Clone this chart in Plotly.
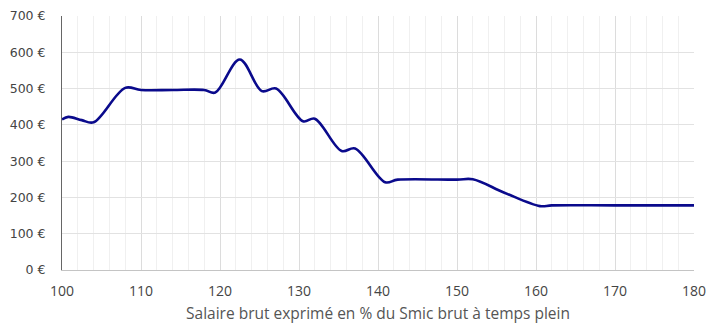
import plotly.graph_objects as go

salaire_pct = [100, 100.8, 102.5, 104, 108, 110, 114, 118, 119.4, 122.5, 125.3, 127.1,
               130.5, 132, 135.4, 137.1, 140.9, 142.5, 150, 152, 156, 160.5, 162, 170, 180]
gain_eur = [415, 422, 413, 407, 502, 496, 496, 496, 489, 580, 493, 500,
            410, 417, 328, 335, 242, 249, 249, 250, 213, 176, 178, 178, 178]

x_title = "Salaire brut exprimé en % du Smic brut à temps plein"

fig = go.Figure()
fig.add_trace(go.Scatter(
    x=salaire_pct, y=gain_eur, mode="lines",
    line=dict(color="#0a0a8c", width=2.6, shape="spline", smoothing=1.0),
    hoverinfo="skip", showlegend=False,
))

fig.update_layout(
    width=709, height=329,
    margin=dict(l=62, r=15, t=16, b=59),
    paper_bgcolor="white", plot_bgcolor="white",
    font=dict(family="Open Sans, sans-serif", size=14, color="#444"),
    xaxis=dict(
        range=[100, 180], dtick=10, tick0=100, automargin=False,
        showgrid=True, gridcolor="#dcdcdc", gridwidth=1,
        minor=dict(dtick=2, showgrid=True, gridcolor="#f0f0f0", gridwidth=1),
        showline=True, linecolor="#c4c4c4", linewidth=1,
        zeroline=False, ticks="", ticklabelstandoff=8,
        tickfont=dict(family="Open Sans, sans-serif", size=14, color="#444"),
        title=dict(text=x_title, font=dict(family="Open Sans, sans-serif", size=15.5, color="#555"), standoff=9),
    ),
    yaxis=dict(
        range=[0, 700], dtick=100, tick0=0, ticksuffix=" €", automargin=False,
        showgrid=True, gridcolor="#e2e2e2", gridwidth=1,
        showline=True, linecolor="#666", linewidth=1,
        zeroline=False, ticks="", ticklabelstandoff=13,
        tickfont=dict(family="DejaVu Sans, sans-serif", size=12.5, color="#444"),
    ),
)
fig.write_html("out.html")
